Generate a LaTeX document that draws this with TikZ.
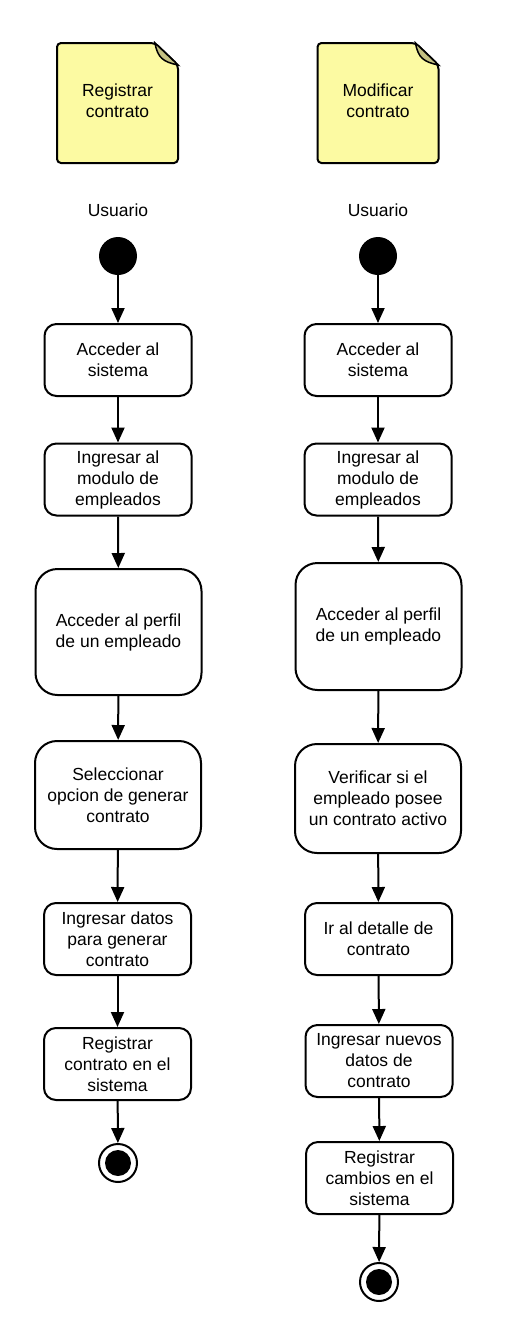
\documentclass[tikz,border=0pt]{standalone}
\usepackage{fontspec}
\setmainfont{Liberation Sans}
\definecolor{noteyellow}{RGB}{252,250,162}
\definecolor{notefold}{RGB}{196,193,130}
\usetikzlibrary{shapes,arrows.meta,positioning,calc}

\begin{document}
\begin{tikzpicture}[x=1pt,y=-1pt,
    act/.style={draw, line width=2pt, rounded corners=12pt, align=center,
        minimum width=147pt, minimum height=72pt, inner sep=0pt,
        font=\fontsize{17.5}{21}\selectfont},
    bigact/.style={act, rounded corners=22pt, minimum width=166pt},
    startnode/.style={circle, fill=black, minimum size=38pt, inner sep=0pt},
    endnode/.style={circle, draw, line width=2pt, fill=white, minimum size=38pt, inner sep=0pt},
    endcore/.style={circle, fill=black, minimum size=26pt, inner sep=0pt},
    flow/.style={line width=2pt, -{Triangle[length=15pt,width=13pt]}},
    lbl/.style={font=\fontsize{17.5}{21}\selectfont, align=center}]
    \useasboundingbox (0,0) rectangle (504,1318);
    % notes
    \foreach \nx/\nname/\ntext in {117.5/noteL/Registrar\\contrato, 378/noteR/Modificar\\contrato} {
        \draw[fill=noteyellow, line width=2pt, rounded corners=4pt]
            (\nx-60.5,43) -- (\nx+37.5,43) -- (\nx+60.5,65) -- (\nx+60.5,163) -- (\nx-60.5,163) -- cycle;
        \fill[notefold, draw=black, line width=1.5pt] (\nx+37.5,43) .. controls (\nx+40,58) and (\nx+46,62) .. (\nx+60.5,65) -- cycle;
        \node[lbl] (\nname) at (\nx,101) {\ntext};
    }
    \node[lbl] (userL) at (118,210) {Usuario};
    \node[lbl] (userR) at (378,210) {Usuario};
    % left flow
    \node[startnode] (s1) at (118,256) {};
    \node[act] (a1) at (118,360) {Acceder al\\sistema};
    \node[act] (a2) at (118,479.5) {Ingresar al\\modulo de\\empleados};
    \node[bigact, minimum height=126pt] (a3) at (118.5,632) {Acceder al perfil\\de un empleado};
    \node[bigact, minimum height=108pt] (a4) at (118,795) {Seleccionar\\opcion de generar\\contrato};
    \node[act] (a5) at (117.5,939) {Ingresar datos\\para generar\\contrato};
    \node[act] (a6) at (117.5,1064) {Registrar\\contrato en el\\sistema};
    \node[endnode] (e1) at (118,1163) {};
    \node[endcore] (e1c) at (e1) {};
    \draw[flow] (s1) -- (a1);
    \draw[flow] (a1) -- (a2);
    \draw[flow] (a2) -- (a3);
    \draw[flow] (a3) -- (a4);
    \draw[flow] (a4) -- (a5);
    \draw[flow] (a5) -- (a6);
    \draw[flow] (a6) -- (e1);
    % right flow
    \node[startnode] (s2) at (378,256) {};
    \node[act] (b1) at (378,360) {Acceder al\\sistema};
    \node[act] (b2) at (378,479.5) {Ingresar al\\modulo de\\empleados};
    \node[bigact, minimum height=127pt] (b3) at (378.5,626.5) {Acceder al perfil\\de un empleado};
    \node[bigact, minimum height=109pt] (b4) at (378,798.5) {Verificar si el\\empleado posee\\un contrato activo};
    \node[act] (b5) at (378.5,939) {Ir al detalle de\\contrato};
    \node[act] (b6) at (379,1061) {Ingresar nuevos\\datos de\\contrato};
    \node[act] (b7) at (379.5,1178) {Registrar\\cambios en el\\sistema};
    \node[endnode] (e2) at (379,1282) {};
    \node[endcore] (e2c) at (e2) {};
    \draw[flow] (s2) -- (b1);
    \draw[flow] (b1) -- (b2);
    \draw[flow] (b2) -- (b3);
    \draw[flow] (b3) -- (b4);
    \draw[flow] (b4) -- (b5);
    \draw[flow] (b5) -- (b6);
    \draw[flow] (b6) -- (b7);
    \draw[flow] (b7) -- (e2);
\end{tikzpicture}
\end{document}
